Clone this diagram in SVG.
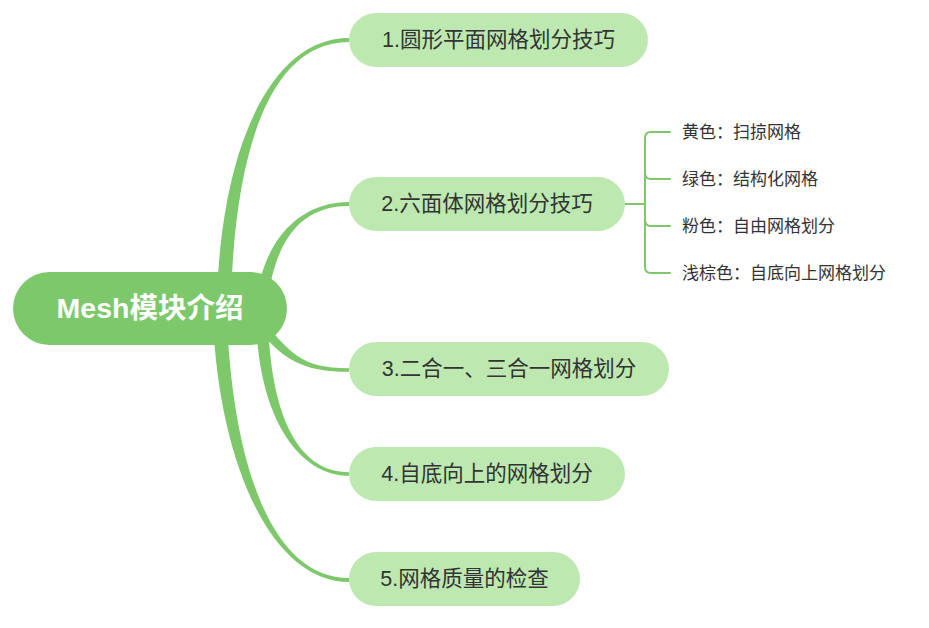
<svg xmlns="http://www.w3.org/2000/svg" width="929" height="628" viewBox="0 0 929 628">
  <style>
    .conn { fill: #7cc86b; }
    .sub { fill: none; stroke: #7cc86b; stroke-width: 2; stroke-linecap: round; }
    .root { fill: #7cc86b; }
    .node { fill: #bde9b1; }
    .rt { font-family: "Liberation Sans", "Noto Sans CJK SC", sans-serif; font-weight: bold; font-size: 28.5px; fill: #ffffff; text-anchor: middle; dominant-baseline: central; }
    .nt { font-family: "Liberation Sans", "Noto Sans CJK SC", sans-serif; font-size: 21.5px; fill: #333333; text-anchor: middle; dominant-baseline: central; }
    .st { font-family: "Liberation Sans", "Noto Sans CJK SC", sans-serif; font-size: 17px; fill: #333333; dominant-baseline: central; }
  </style>
  <rect width="929" height="628" fill="#ffffff"/>
  <g id="connectors">
    <path class="conn" d="M 217 300 C 221 150 270 38 349 38 L 349 42 C 270 42 235 150 231 300 Z"/>
    <path class="conn" d="M 256.5 299 C 264.5 239 300 202 349 202 L 349 206 C 300 206 275.5 241 267.5 301 Z"/>
    <path class="conn" d="M 258.9 314.9 C 288.9 351.9 300 368.2 349 368.2 L 349 371.8 C 300 371.8 281.1 358.1 251.1 321.1 Z"/>
    <path class="conn" d="M 256 320 C 259 420 300 475.8 349 475.8 L 349 472.2 C 300 472.2 271 420 268 320 Z"/>
    <path class="conn" d="M 213 320 C 219 460 270 582 349 582 L 349 578 C 270 578 233 460 227 320 Z"/>
    <path class="sub" d="M 625 204 H 645"/>
    <path class="sub" d="M 670 132 H 651 Q 645 132 645 138 V 267 Q 645 273 651 273 H 670"/>
    <path class="sub" d="M 645 173 Q 645 179 651 179 H 670"/>
    <path class="sub" d="M 645 220 Q 645 226 651 226 H 670"/>
  </g>
  <g id="root">
    <rect class="root" x="13" y="272" width="274" height="73" rx="36.5"/>
    <text class="rt" x="150" y="308">Mesh模块介绍</text>
  </g>
  <g id="node1">
    <rect class="node" x="349" y="13" width="299" height="54" rx="27"/>
    <text class="nt" x="498.5" y="40">1.圆形平面网格划分技巧</text>
  </g>
  <g id="node2">
    <rect class="node" x="349" y="177" width="276" height="54" rx="27"/>
    <text class="nt" x="487" y="204">2.六面体网格划分技巧</text>
  </g>
  <g id="node3">
    <rect class="node" x="349" y="342" width="320" height="54" rx="27"/>
    <text class="nt" x="509" y="369">3.二合一、三合一网格划分</text>
  </g>
  <g id="node4">
    <rect class="node" x="349" y="447" width="276" height="54" rx="27"/>
    <text class="nt" x="487" y="474">4.自底向上的网格划分</text>
  </g>
  <g id="node5">
    <rect class="node" x="349" y="552" width="231" height="54" rx="27"/>
    <text class="nt" x="464.5" y="579">5.网格质量的检查</text>
  </g>
  <g id="sub1"><text class="st" x="682" y="132">黄色：扫掠网格</text></g>
  <g id="sub2"><text class="st" x="682" y="179">绿色：结构化网格</text></g>
  <g id="sub3"><text class="st" x="682" y="226">粉色：自由网格划分</text></g>
  <g id="sub4"><text class="st" x="682" y="273">浅棕色：自底向上网格划分</text></g>
</svg>
